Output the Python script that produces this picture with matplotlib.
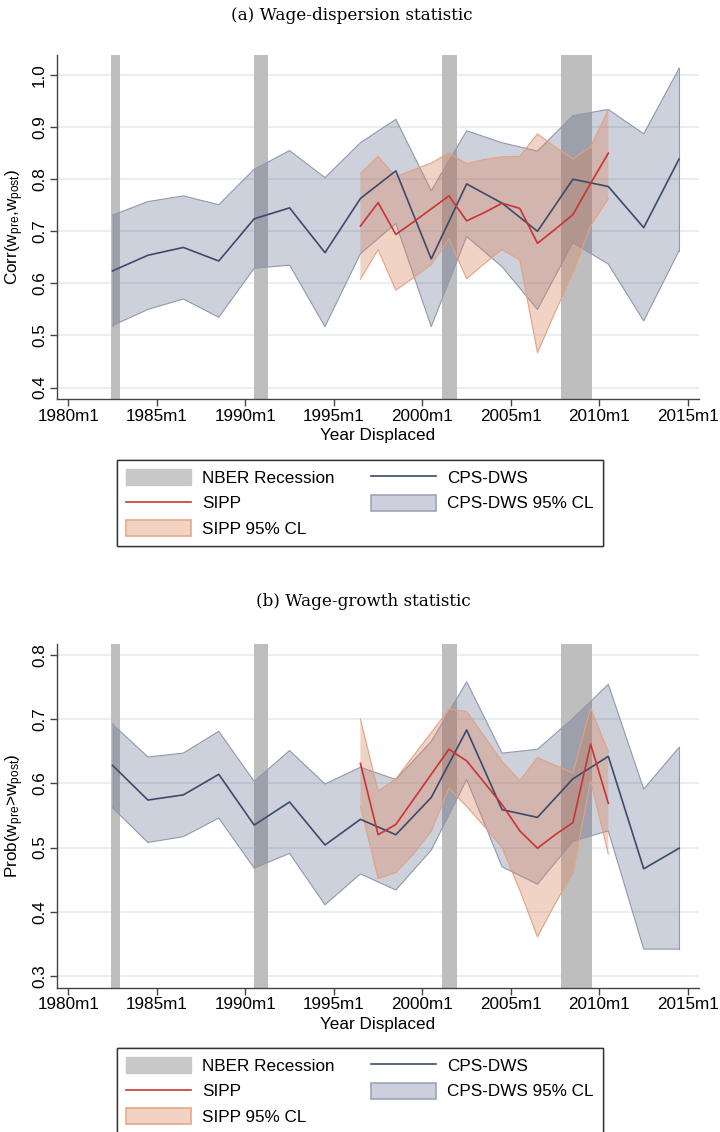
import matplotlib
matplotlib.use("Agg")
import matplotlib.pyplot as plt
from matplotlib.patches import Patch
from matplotlib.lines import Line2D
from matplotlib.ticker import FormatStrFormatter

plt.rcParams["font.family"] = "Liberation Sans"
plt.rcParams["mathtext.fontset"] = "custom"
plt.rcParams["mathtext.rm"] = "Liberation Sans"
plt.rcParams["mathtext.it"] = "Liberation Sans:italic"

# --- DATA ---
cps_years = [1982.5, 1984.5, 1986.5, 1988.5, 1990.5, 1992.5, 1994.5, 1996.5, 1998.5,
             2000.5, 2002.5, 2004.5, 2006.5, 2008.5, 2010.5, 2012.5, 2014.5]
sipp_years = [1996.5, 1997.5, 1998.5, 1999.5, 2000.5, 2001.5, 2002.5, 2003.5,
              2004.5, 2005.5, 2006.5, 2007.5, 2008.5, 2009.5, 2010.5]

# NBER recessions (start, end)
rec_start = [1982.4, 1990.5, 2001.1, 2007.8]
rec_end = [1982.95, 1991.3, 2001.95, 2009.6]

# (a) wage dispersion
a_cps = [0.624, 0.654, 0.669, 0.643, 0.724, 0.745, 0.659, 0.763, 0.816,
         0.647, 0.791, 0.754, 0.700, 0.800, 0.786, 0.707, 0.839]
a_cps_hi = [0.731, 0.757, 0.768, 0.751, 0.819, 0.855, 0.803, 0.870, 0.915,
            0.778, 0.893, 0.870, 0.854, 0.922, 0.934, 0.887, 1.013]
a_cps_lo = [0.519, 0.550, 0.570, 0.535, 0.629, 0.635, 0.517, 0.657, 0.715,
            0.517, 0.690, 0.632, 0.550, 0.678, 0.637, 0.528, 0.663]
a_sipp = [0.710, 0.755, 0.694, 0.718, 0.743, 0.768, 0.720, 0.736,
          0.754, 0.744, 0.677, 0.704, 0.732, 0.792, 0.850]
a_sipp_hi = [0.811, 0.844, 0.805, 0.818, 0.831, 0.850, 0.830, 0.838,
             0.843, 0.844, 0.887, 0.862, 0.839, 0.862, 0.933]
a_sipp_lo = [0.608, 0.665, 0.587, 0.611, 0.636, 0.685, 0.609, 0.638,
             0.665, 0.645, 0.467, 0.545, 0.620, 0.710, 0.763]

# (b) wage growth
b_cps = [0.628, 0.574, 0.582, 0.614, 0.535, 0.571, 0.504, 0.544, 0.520,
         0.578, 0.683, 0.559, 0.547, 0.607, 0.642, 0.467, 0.499]
b_cps_hi = [0.692, 0.641, 0.647, 0.681, 0.603, 0.651, 0.599, 0.625, 0.606,
            0.665, 0.758, 0.647, 0.653, 0.701, 0.754, 0.591, 0.656]
b_cps_lo = [0.562, 0.508, 0.517, 0.546, 0.468, 0.491, 0.411, 0.459, 0.434,
            0.496, 0.606, 0.470, 0.443, 0.510, 0.526, 0.342, 0.342]
b_sipp = [0.631, 0.520, 0.536, 0.575, 0.614, 0.653, 0.635, 0.601,
          0.567, 0.526, 0.499, 0.520, 0.539, 0.661, 0.569]
b_sipp_hi = [0.700, 0.588, 0.607, 0.643, 0.679, 0.715, 0.712, 0.673,
             0.634, 0.604, 0.640, 0.628, 0.616, 0.717, 0.649]
b_sipp_lo = [0.564, 0.452, 0.461, 0.490, 0.525, 0.593, 0.564, 0.533,
             0.500, 0.434, 0.361, 0.413, 0.460, 0.604, 0.490]

xtick_pos = [1980, 1985, 1990, 1995, 2000, 2005, 2010, 2015]
xtick_lab = ["1980m1", "1985m1", "1990m1", "1995m1", "2000m1", "2005m1", "2010m1", "2015m1"]

# --- STYLE ---
c_rec = "#bebebe"
c_cps = "#3d4a6b"
c_cps_fill = "#3a4a75"
c_sipp = "#cc3333"
c_sipp_fill = "#d9825a"
fs = 12.3

fig = plt.figure(figsize=(7.2, 11.32), dpi=100)

panels = [
    (0.6475, (0.378, 1.038), [0.4, 0.5, 0.6, 0.7, 0.8, 0.9, 1.0],
     "Corr(w$_{\\rm pre}$,w$_{\\rm post}$)",
     a_cps, a_cps_hi, a_cps_lo, a_sipp, a_sipp_hi, a_sipp_lo),
    (0.1275, (0.282, 0.817), [0.3, 0.4, 0.5, 0.6, 0.7, 0.8],
     "Prob(w$_{\\rm pre}$>w$_{\\rm post}$)",
     b_cps, b_cps_hi, b_cps_lo, b_sipp, b_sipp_hi, b_sipp_lo),
]

for bottom, ylim, yticks, ylab, cps, cps_hi, cps_lo, sipp, sipp_hi, sipp_lo in panels:
    ax = fig.add_axes([0.0788, bottom, 0.892, 0.3037])

    for s, e in zip(rec_start, rec_end):
        ax.axvspan(s, e, color=c_rec, lw=0, zorder=1)

    ax.fill_between(cps_years, cps_lo, cps_hi, facecolor=c_cps_fill, alpha=0.25,
                    edgecolor="none", zorder=2)
    ax.plot(cps_years, cps_hi, color="#9298ad", lw=0.8, zorder=2.1)
    ax.plot(cps_years, cps_lo, color="#9298ad", lw=0.8, zorder=2.1)
    ax.plot([cps_years[0]] * 2, [cps_lo[0], cps_hi[0]], color="#9298ad", lw=0.8, zorder=2.1)
    ax.plot([cps_years[-1]] * 2, [cps_lo[-1], cps_hi[-1]], color="#9298ad", lw=0.8, zorder=2.1)

    ax.fill_between(sipp_years, sipp_lo, sipp_hi, facecolor=c_sipp_fill, alpha=0.35,
                    edgecolor="none", zorder=3)
    ax.plot(sipp_years, sipp_hi, color="#e4a184", lw=0.8, zorder=3.1)
    ax.plot(sipp_years, sipp_lo, color="#e4a184", lw=0.8, zorder=3.1)

    ax.plot(cps_years, cps, color=c_cps, lw=1.2, zorder=4)
    ax.plot(sipp_years, sipp, color=c_sipp, lw=1.2, zorder=5)

    ax.set_xlim(1979.35, 2015.62)
    ax.set_ylim(*ylim)
    ax.set_xticks(xtick_pos)
    ax.set_xticklabels(xtick_lab, fontsize=fs)
    ax.set_yticks(yticks)
    ax.yaxis.set_major_formatter(FormatStrFormatter("%.1f"))
    for lab in ax.get_yticklabels():
        lab.set_rotation(90)
        lab.set_va("center")
        lab.set_fontsize(fs)

    ax.grid(True, axis="y", color="#e3ecec", lw=1.2, zorder=0)
    ax.set_axisbelow(True)
    for side in ["top", "right"]:
        ax.spines[side].set_visible(False)
    for side in ["left", "bottom"]:
        ax.spines[side].set_color("#444444")
        ax.spines[side].set_linewidth(1.0)
    ax.tick_params(axis="both", colors="#444444", length=5, width=1.0, pad=2,
                   labelcolor="black")

    ax.set_xlabel("Year Displaced", fontsize=fs, labelpad=3)
    ax.set_ylabel(ylab, fontsize=fs, labelpad=4)

# --- TITLES ---
fig.text(0.488, 1 - 16 / 1132, "(a) Wage-dispersion statistic", family="DejaVu Serif",
         fontsize=12.1, ha="center", va="center")
fig.text(0.504, 1 - 602 / 1132, "(b) Wage-growth statistic", family="DejaVu Serif",
         fontsize=12.1, ha="center", va="center")

# --- LEGENDS ---
handles = [
    Patch(facecolor="#c8c8c8", edgecolor="#c8c8c8"),
    Line2D([], [], color=c_sipp, lw=1.2),
    Patch(facecolor="#f2d2c3", edgecolor="#e8a88c", lw=1.2),
    Line2D([], [], color=c_cps, lw=1.2),
    Patch(facecolor="#cdd0dc", edgecolor="#9ea4b8", lw=1.2),
]
labels = ["NBER Recession", "SIPP", "SIPP 95% CL", "CPS-DWS", "CPS-DWS 95% CL"]

for ytop in [460, 1048]:
    leg = fig.legend(handles, labels, ncol=2, loc="upper left",
                     bbox_to_anchor=(117 / 720, 1 - ytop / 1132), borderaxespad=0,
                     fontsize=fs, handlelength=3.8, handleheight=1.05, handletextpad=0.65,
                     labelspacing=0.5, columnspacing=2.1, borderpad=0.55,
                     fancybox=False, framealpha=1, edgecolor="#333333")
    leg.get_frame().set_linewidth(1.0)
    fig.add_artist(leg)

fig.savefig("out.png", dpi=100)
